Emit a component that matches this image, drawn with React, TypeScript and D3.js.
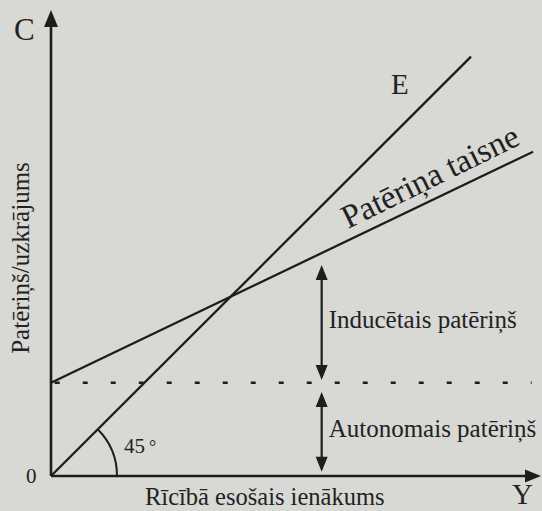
import * as d3 from "d3";

// Data: consumption function C = a + b*Y against the 45° line
const incomeDomain = [0, 105];
const consumptionDomain = [0, 100];
const autonomousConsumption = 20;
const marginalPropensity = 0.48;
const consumptionIncome = [0, 103.3];
const fortyFiveIncome = [0, 90];
const dashedIncome = [0.8, 103];
const bracketIncome = 58;
const inducedRange = [20.6, 45.3];
const autonomousRange = [0.9, 18.0];

const axisLabels = { x: "Y", y: "C", origin: "0", e: "E" };
const lineLabel = "Patēriņa taisne";
const inducedLabel = "Inducētais patēriņš";
const autonomousLabel = "Autonomais patēriņš";
const xTitle = "Rīcībā esošais ienākums";
const yTitle = "Patēriņš/uzkrājums";

const W = 542;
const H = 511;
const INK = "#1d1d1d";
const FONT = "Liberation Serif";

export default function App() {
  const x = d3.scaleLinear().domain(incomeDomain).range([51, 541]);
  const y = d3.scaleLinear().domain(consumptionDomain).range([476, 10]);

  const line = d3.line<number[]>((d) => x(d[0]), (d) => y(d[1]));
  const consumption = consumptionIncome.map((v) => [v, autonomousConsumption + marginalPropensity * v]);
  const fortyFive = fortyFiveIncome.map((v) => [v, v]);
  const dashed = dashedIncome.map((v) => [v, autonomousConsumption]);

  const ox = x(0);
  const oy = y(0);

  // arrowheads as small triangles
  const head = (tx: number, ty: number, dir: "up" | "down" | "right", len: number, half: number) => {
    if (dir === "up") return `M${tx},${ty}L${tx - half},${ty + len}L${tx + half},${ty + len}Z`;
    if (dir === "down") return `M${tx},${ty}L${tx - half},${ty - len}L${tx + half},${ty - len}Z`;
    return `M${tx},${ty}L${tx - len},${ty - half}L${tx - len},${ty + half}Z`;
  };

  const arc = d3.path();
  const r = 66;
  arc.moveTo(ox + r, oy);
  arc.arc(ox, oy, r, 0, -Math.PI / 4, true);

  const bx = x(bracketIncome);
  const angle = (-Math.atan(marginalPropensity * ((y(0) - y(1)) / (x(1) - x(0)))) * 180) / Math.PI;

  return (
    <svg width={W} height={H} style={{ position: "fixed", left: 0, top: 0 }}>
      <rect width={W} height={H} fill="#d8d8d5" />

      {/* axes */}
      <line x1={ox} y1={oy} x2={ox} y2={y(100) + 14} stroke={INK} strokeWidth={2.6} />
      <path d={head(ox, y(100), "up", 17, 7)} fill={INK} />
      <line x1={ox} y1={oy} x2={x(105) - 14} y2={oy} stroke={INK} strokeWidth={2.6} />
      <path d={head(x(105), oy, "right", 16, 6.5)} fill={INK} />

      {/* lines */}
      <path d={line(fortyFive) ?? ""} fill="none" stroke={INK} strokeWidth={2.3} />
      <path d={line(consumption) ?? ""} fill="none" stroke={INK} strokeWidth={2.3} />
      <path d={line(dashed) ?? ""} fill="none" stroke={INK} strokeWidth={2.6} strokeDasharray="5 23" />

      {/* 45 degree arc */}
      <path d={arc.toString()} fill="none" stroke={INK} strokeWidth={2} />

      {/* brackets */}
      <line x1={bx} y1={y(inducedRange[1]) + 12} x2={bx} y2={y(inducedRange[0]) - 12} stroke={INK} strokeWidth={2.2} />
      <path d={head(bx, y(inducedRange[1]), "up", 15, 6)} fill={INK} />
      <path d={head(bx, y(inducedRange[0]), "down", 15, 6)} fill={INK} />
      <line x1={bx} y1={y(autonomousRange[1]) + 12} x2={bx} y2={y(autonomousRange[0]) - 12} stroke={INK} strokeWidth={2.2} />
      <path d={head(bx, y(autonomousRange[1]), "up", 15, 6)} fill={INK} />
      <path d={head(bx, y(autonomousRange[0]), "down", 15, 6)} fill={INK} />

      {/* text */}
      <g fill="#222" style={{ fontFamily: FONT }}>
        <text x={14} y={40} fontSize={31}>{axisLabels.y}</text>
        <text x={391} y={94} fontSize={29}>{axisLabels.e}</text>
        <text x={512} y={504} fontSize={29}>{axisLabels.x}</text>
        <text x={26} y={483} fontSize={21}>{axisLabels.origin}</text>
        <text x={124} y={453} fontSize={21}>
          45<tspan dx={4} fontSize={18}>°</tspan>
        </text>
        <text x={bx + 7} y={328} fontSize={25}>{inducedLabel}</text>
        <text x={bx + 7} y={437} fontSize={25}>{autonomousLabel}</text>
        <text x={145} y={505} fontSize={24.5}>{xTitle}</text>
        <text transform={`translate(29,258) rotate(-90)`} textAnchor="middle" fontSize={25}>{yTitle}</text>
        <text transform={`translate(348,229) rotate(${angle - 0.5})`} fontSize={33}>{lineLabel}</text>
      </g>
    </svg>
  );
}
